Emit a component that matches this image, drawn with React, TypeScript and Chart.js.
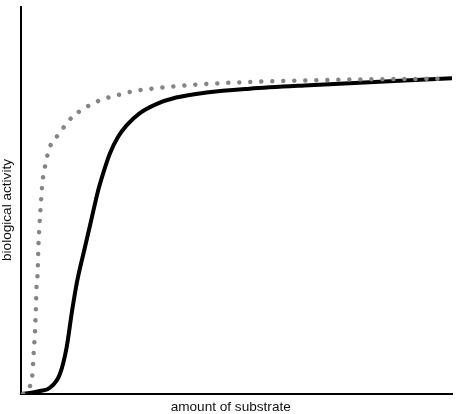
import React, { useEffect, useRef } from "react";
import { Chart, registerables } from "chart.js";

Chart.register(...registerables);

// Hyperbolic curve (dotted grey)
const substrateDotted = [0.5, 2.15, 2.7, 2.85, 3.0, 3.17, 3.3, 3.47, 3.63, 3.87, 4.0, 4.24, 4.56, 4.93, 5.25, 5.72, 6.25, 6.94, 9.03, 10.4, 12.1, 14.2, 16.4, 18.8, 21.2, 23.7, 26.2, 31.1, 41.4, 64.6, 97.5];
const activityDotted = [0, 2.3, 5.8, 8.8, 11.7, 14.5, 17.4, 22.9, 28.6, 31.4, 37.0, 42.7, 48.3, 54.1, 57.0, 59.6, 62.2, 64.5, 67.4, 69.7, 71.8, 73.5, 74.9, 76.1, 76.9, 77.6, 78.3, 79.0, 80.0, 81.0, 81.5];

// Sigmoidal curve (solid black)
const substrateSolid = [0, 2.08, 4.4, 6.71, 9.03, 10.58, 11.81, 12.96, 14.81, 16.37, 17.9, 19.2, 20.6, 22.5, 24.5, 27.5, 31.4, 36.0, 43.0, 53.0, 66.9, 100];
const activitySolid = [0, 0.26, 0.78, 1.63, 5.18, 12.0, 21.2, 28.8, 37.8, 45.3, 52.6, 57.5, 62.1, 66.4, 69.4, 72.5, 74.9, 76.6, 77.9, 78.9, 79.8, 81.6];

const xTitle = "amount of substrate";
const yTitle = "biological activity";

const axisTitles = {
  id: "axisTitles",
  afterDraw(chart: any) {
    const { ctx, chartArea } = chart;
    ctx.save();
    ctx.fillStyle = "#111";
    ctx.font = "13.6px 'Liberation Sans', Arial, sans-serif";
    ctx.textAlign = "center";
    ctx.textBaseline = "alphabetic";
    ctx.fillText(xTitle, chartArea.left + 209.7, chartArea.bottom + 17);
    ctx.translate(chartArea.left - 9.6, chartArea.top + 203);
    ctx.rotate(-Math.PI / 2);
    ctx.fillText(yTitle, 0, 0);
    ctx.restore();
  },
};

export default function App() {
  const ref = useRef<HTMLCanvasElement | null>(null);

  useEffect(() => {
    document.body.style.margin = "0";
    const canvas = ref.current;
    if (!canvas) return;
    const dotted = substrateDotted.map((x, i) => ({ x, y: activityDotted[i] }));
    const solid = substrateSolid.map((x, i) => ({ x, y: activitySolid[i] }));
    const chart = new Chart(canvas, {
      type: "line",
      data: {
        datasets: [
          {
            label: "hyperbolic",
            data: dotted,
            borderColor: "#858585",
            borderWidth: 4.5,
            borderDash: [0.01, 11],
            borderCapStyle: "round",
            borderJoinStyle: "round",
            pointRadius: 0,
            fill: false,
            cubicInterpolationMode: "monotone",
          },
          {
            label: "sigmoidal",
            data: solid,
            borderColor: "#000",
            borderWidth: 4,
            borderJoinStyle: "round",
            pointRadius: 0,
            fill: false,
            cubicInterpolationMode: "monotone",
          },
        ],
      },
      options: {
        responsive: false,
        animation: false,
        events: [],
        layout: { padding: { left: 21, right: 15, top: 7, bottom: 20 } },
        plugins: {
          legend: { display: false },
          tooltip: { enabled: false },
          title: { display: false },
        },
        scales: {
          x: {
            type: "linear",
            min: 0,
            max: 100,
            grid: { display: false, drawTicks: false },
            ticks: { display: false },
            border: { display: true, color: "#000", width: 2 },
          },
          y: {
            type: "linear",
            min: 0,
            max: 100,
            grid: { display: false, drawTicks: false },
            ticks: { display: false },
            border: { display: true, color: "#000", width: 2 },
          },
        },
      },
      plugins: [axisTitles],
    });
    return () => chart.destroy();
  }, []);

  return <canvas ref={ref} width={467} height={414} style={{ display: "block" }} />;
}
